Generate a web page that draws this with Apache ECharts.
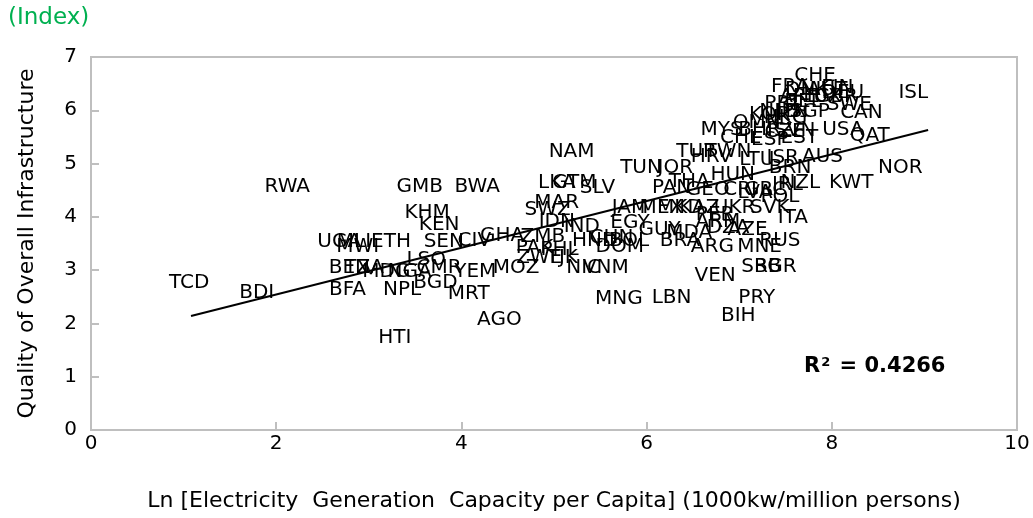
<!DOCTYPE html>
<html>
<head>
<meta charset="utf-8">
<script src="https://cdn.jsdelivr.net/npm/echarts@6/dist/echarts.min.js"></script>
<style>
    html, body {margin: 0; padding: 0; background: #fff;}
    #main {width: 1033px; height: 518px;}
</style>
</head>
<body>
<div id="main"></div>
<script>
    // country codes and positions
    var codes = [
        "TCD","BDI","RWA","HTI","BFA","NPL","BGD","MRT","AGO","BEN",
        "TZA","MDG","NGA","CMR","YEM","LSO","UGA","MWI","MLI","ETH",
        "SEN","CIV","KEN","KHM","GMB","BWA","GHA","ZMB","MOZ","NAM",
        "LKA","GTM","SLV","MAR","SWZ","IDN","IND","PAK","PHL","ZWE",
        "TJK","NIC","VNM","HND","CHN","DOM","BOL","EGY","JAM","GUY",
        "TUN","JOR","MNG","LBN","VEN","PRY","BIH","SRB","BGR","ARG",
        "MNE","RUS","BRA","MDA","AZE","DZA","MEX","MKD","KAZ","UKR",
        "SVK","ITA","PER","ARM","PAN","THA","GEO","CRI","LVA","GRC",
        "POL","IRL","HUN","HRV","LTU","TUR","ISR","AUS","BRN","NZL",
        "KWT","NOR","ISL","QAT","USA","EST","MYS","CHL","BHR","CZE",
        "SVN","TWN","ESP","OMN","KOR","NLD","JPN","SGP","HKG","PRT",
        "BEL","LUX","GBR","ARE","DEU","FRA","DNK","AUT","FIN","CHE",
        "SWE","CAN"
    ];
    var lnCapacity = [
        1.06,1.79,2.12,3.28,2.77,3.36,3.72,4.08,4.41,2.79,
        2.95,3.19,3.44,3.76,4.15,3.62,2.68,2.88,2.84,3.24,
        3.81,4.14,3.76,3.63,3.55,4.17,4.44,4.88,4.59,5.19,
        5.03,5.22,5.47,5.03,4.93,5.03,5.30,4.79,5.06,4.84,
        5.09,5.32,5.56,5.44,5.62,5.71,5.81,5.82,5.82,6.14,
        5.94,6.31,5.70,6.27,6.74,7.19,6.99,7.24,7.39,6.71,
        7.22,7.44,6.36,6.46,7.09,6.88,6.16,6.36,6.57,6.95,
        7.33,7.58,6.74,6.77,6.27,6.46,6.66,7.01,7.17,7.28,
        7.44,7.52,6.93,6.70,7.19,6.54,7.47,7.90,7.55,7.66,
        8.21,8.74,8.88,8.41,8.12,7.65,6.81,7.01,7.22,7.49,
        7.60,6.88,7.33,7.19,7.33,7.44,7.57,7.76,7.50,7.47,
        7.69,7.90,8.05,7.65,8.12,7.55,7.73,7.95,8.06,7.82,
        8.19,8.32
    ];
    var infraIndex = [
        2.76,2.57,4.56,1.73,2.63,2.63,2.76,2.55,2.06,3.04,
        3.04,2.96,2.96,3.04,2.96,3.19,3.53,3.43,3.53,3.53,
        3.53,3.56,3.85,4.07,4.56,4.56,3.64,3.62,3.04,5.23,
        4.63,4.63,4.54,4.26,4.13,3.90,3.81,3.41,3.38,3.23,
        3.23,3.04,3.04,3.56,3.60,3.43,3.56,3.88,4.17,3.75,
        4.93,4.93,2.46,2.48,2.89,2.48,2.14,3.06,3.06,3.43,
        3.43,3.56,3.56,3.70,3.75,3.79,4.17,4.17,4.17,4.17,
        4.17,3.98,4.03,3.90,4.54,4.65,4.50,4.50,4.45,4.50,
        4.37,4.60,4.78,5.12,5.07,5.22,5.10,5.12,4.93,4.63,
        4.63,4.93,6.32,5.53,5.63,5.48,5.63,5.48,5.63,5.59,
        5.61,5.22,5.44,5.76,5.91,5.97,5.97,5.97,5.85,6.13,
        6.15,6.25,6.25,6.25,6.32,6.44,6.38,6.38,6.42,6.64,
        6.10,5.95
    ];
    // linear trend line ends
    var trendX = [1.08, 9.04];
    var trendY = [2.14, 5.63];
    var rSquared = "0.4266";

    var points = [];
    for (var i = 0; i < codes.length; i++) {
        points.push({name: codes[i], value: [lnCapacity[i], infraIndex[i]]});
    }
    var trend = [];
    for (var j = 0; j < trendX.length; j++) {
        trend.push([trendX[j], trendY[j]]);
    }

    var fontName = "'DejaVu Sans', sans-serif";
    var chart = echarts.init(document.getElementById("main"));
    var option = {
        animation: false,
        textStyle: {fontFamily: fontName},
        grid: {
            left: 91, right: 16, top: 57, bottom: 88,
            show: true, borderColor: "#bfbfbf", borderWidth: 2
        },
        xAxis: {
            type: "value",
            min: 0, max: 10, interval: 2,
            name: "Ln [Electricity  Generation  Capacity per Capita] (1000kw/million persons)",
            nameLocation: "middle",
            nameGap: 60,
            nameTextStyle: {fontSize: 22, color: "#000", fontFamily: fontName},
            axisLine: {show: true, lineStyle: {color: "#bfbfbf", width: 2}},
            axisTick: {show: true, inside: true, length: 8, lineStyle: {color: "#bfbfbf", width: 2}},
            axisLabel: {fontSize: 20, color: "#000", margin: 4, fontFamily: fontName},
            splitLine: {show: false}
        },
        yAxis: {
            type: "value",
            min: 0, max: 7, interval: 1,
            name: "Quality of Overall Infrastructure",
            nameLocation: "middle",
            nameGap: 53,
            nameTextStyle: {fontSize: 22, color: "#000", fontFamily: fontName},
            axisLine: {show: true, lineStyle: {color: "#bfbfbf", width: 2}},
            axisTick: {show: true, inside: true, length: 8, lineStyle: {color: "#bfbfbf", width: 2}},
            axisLabel: {fontSize: 20, color: "#000", margin: 14, fontFamily: fontName},
            splitLine: {show: false}
        },
        graphic: [
            {
                type: "text", left: 8, top: 7,
                style: {text: "(Index)", fill: "#00b050", font: "23px " + fontName}
            },
            {
                type: "text", left: 804, top: 356,
                style: {
                    text: "{b|R}{s|2}{b| = " + rSquared + "}",
                    rich: {
                        b: {fontSize: 21, fontWeight: "bold", fill: "#000", fontFamily: fontName},
                        s: {fontSize: 13, fontWeight: "bold", fill: "#000", fontFamily: fontName, verticalAlign: "top", padding: [0, 2, 8, 1]}
                    }
                }
            }
        ],
        series: [
            {
                type: "scatter",
                data: points,
                symbol: "circle",
                symbolSize: 0.01,
                itemStyle: {color: "#000", opacity: 1},
                label: {
                    show: true,
                    position: "inside",
                    formatter: "{b}",
                    fontSize: 20,
                    color: "#000",
                    opacity: 1,
                    fontFamily: fontName
                },
                z: 3
            },
            {
                type: "line",
                data: trend,
                symbol: "none",
                lineStyle: {color: "#000", width: 2},
                z: 4
            }
        ]
    };
    chart.setOption(option);
</script>
</body>
</html>
